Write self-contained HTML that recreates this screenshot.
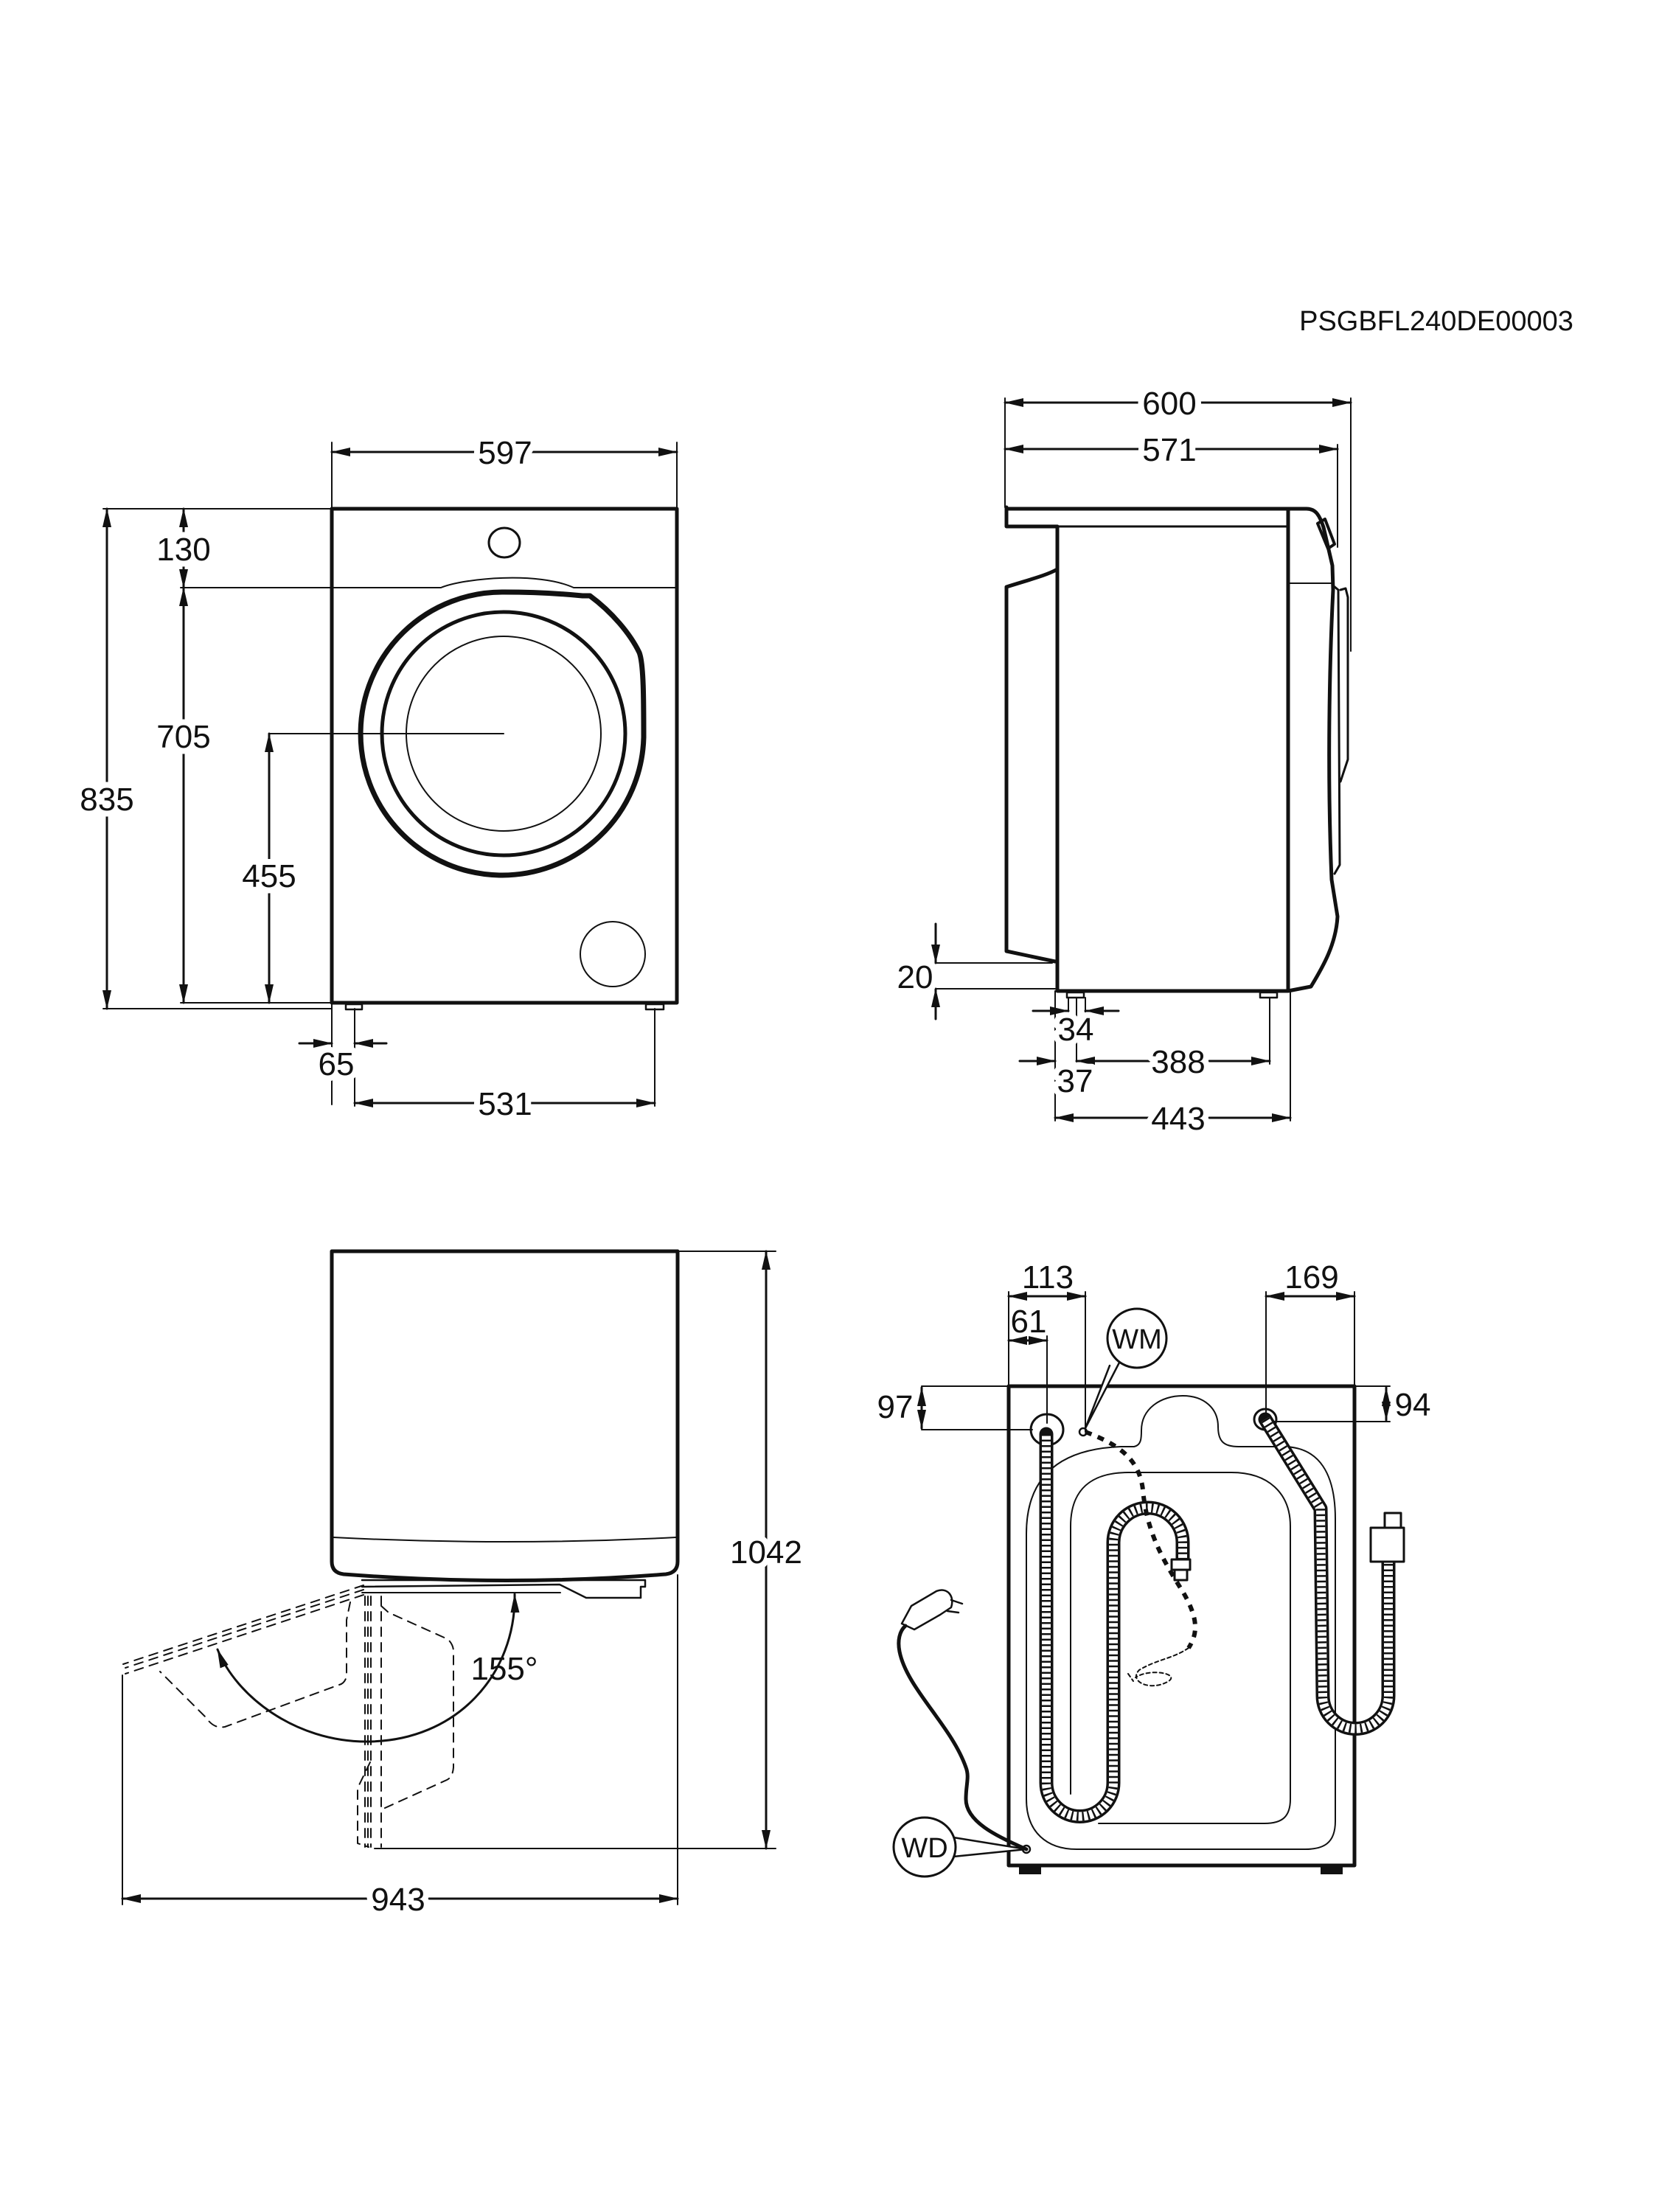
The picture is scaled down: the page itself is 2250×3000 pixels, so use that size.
<!DOCTYPE html>
<html><head><meta charset="utf-8"><style>
html,body{margin:0;padding:0;background:#fff}
svg{display:block}
text{font-family:"Liberation Sans",Arial,sans-serif;font-size:44px;fill:#111;text-anchor:middle;paint-order:stroke;stroke:#fff;stroke-width:16px;stroke-linejoin:round}
</style></head><body>
<svg width="2250" height="3000" viewBox="0 0 2250 3000" xmlns="http://www.w3.org/2000/svg">
<defs>
<marker id="a" markerUnits="userSpaceOnUse" markerWidth="26" markerHeight="12" refX="25" refY="6" orient="auto-start-reverse"><path d="M0,0 L26,6 L0,12 z" fill="#111"/></marker>
</defs>
<g fill="none" stroke="#111" stroke-linejoin="round" stroke-linecap="round">

<!-- ===== FRONT VIEW ===== -->
<g stroke-width="2">
<line x1="450" y1="600" x2="450" y2="690"/><line x1="918" y1="600" x2="918" y2="690"/>
<line x1="140" y1="690" x2="450" y2="690"/>
<line x1="140" y1="1368" x2="450" y2="1368"/>
<line x1="245" y1="1360" x2="450" y2="1360"/>
<line x1="245" y1="797" x2="450" y2="797"/>
<line x1="365" y1="995" x2="683" y2="995"/>
<line x1="450" y1="1360" x2="450" y2="1498"/>
<line x1="481" y1="1368" x2="481" y2="1500"/>
<line x1="888" y1="1368" x2="888" y2="1500"/>
</g>
<g stroke-width="3">
<line x1="450" y1="613" x2="918" y2="613" marker-start="url(#a)" marker-end="url(#a)"/>
<line x1="145" y1="690" x2="145" y2="1368" marker-start="url(#a)" marker-end="url(#a)"/>
<line x1="249" y1="690" x2="249" y2="797" marker-start="url(#a)" marker-end="url(#a)"/>
<line x1="249" y1="797" x2="249" y2="1360" marker-start="url(#a)" marker-end="url(#a)"/>
<line x1="365" y1="995" x2="365" y2="1360" marker-start="url(#a)" marker-end="url(#a)"/>
<line x1="406" y1="1415" x2="450" y2="1415" marker-end="url(#a)"/>
<line x1="524" y1="1415" x2="481" y2="1415" marker-end="url(#a)"/>
<line x1="481" y1="1496" x2="888" y2="1496" marker-start="url(#a)" marker-end="url(#a)"/>
</g>
<rect x="450" y="690" width="468" height="670" stroke-width="5"/>
<ellipse cx="684" cy="736" rx="21" ry="20" stroke-width="3"/>
<path d="M452,797 L598,797 C630,784 730,775 778,797 L916,797" stroke-width="2"/>
<path d="M873,1000 A192,192 0 1 1 683,803 C720,803 760,805 790,808 L800,808 C830,830 855,860 867,885 C873,900 873,950 873,1000 Z" stroke-width="7"/>
<circle cx="683" cy="995" r="165" stroke-width="5"/>
<circle cx="683" cy="995" r="132" stroke-width="2"/>
<circle cx="831" cy="1294" r="44" stroke-width="2"/>
<rect x="469" y="1362" width="22" height="7" stroke-width="2.5"/>
<rect x="876" y="1362" width="24" height="7" stroke-width="2.5"/>

<!-- ===== SIDE VIEW ===== -->
<g stroke-width="2">
<line x1="1363" y1="540" x2="1363" y2="688"/>
<line x1="1832" y1="540" x2="1832" y2="883"/>
<line x1="1814" y1="603" x2="1814" y2="742"/>
<line x1="1269" y1="1306" x2="1427" y2="1306"/>
<line x1="1269" y1="1341" x2="1431" y2="1341"/>
<line x1="1431" y1="1344" x2="1431" y2="1520"/>
<line x1="1750" y1="1344" x2="1750" y2="1520"/>
<line x1="1449" y1="1353" x2="1449" y2="1395"/>
<line x1="1472" y1="1353" x2="1472" y2="1395"/>
<line x1="1460" y1="1353" x2="1460" y2="1440"/>
<line x1="1722" y1="1353" x2="1722" y2="1443"/>
<line x1="1747" y1="791" x2="1807" y2="791"/>
</g>
<g stroke-width="3">
<line x1="1363" y1="546" x2="1832" y2="546" marker-start="url(#a)" marker-end="url(#a)"/>
<line x1="1363" y1="609" x2="1814" y2="609" marker-start="url(#a)" marker-end="url(#a)"/>
<line x1="1269" y1="1253" x2="1269" y2="1306" marker-end="url(#a)"/>
<line x1="1269" y1="1382" x2="1269" y2="1341" marker-end="url(#a)"/>
<line x1="1401" y1="1371" x2="1449" y2="1371" marker-end="url(#a)"/>
<line x1="1517" y1="1371" x2="1472" y2="1371" marker-end="url(#a)"/>
<line x1="1383" y1="1439" x2="1431" y2="1439" marker-end="url(#a)"/>
<line x1="1460" y1="1439" x2="1722" y2="1439" marker-start="url(#a)" marker-end="url(#a)"/>
<line x1="1431" y1="1516" x2="1750" y2="1516" marker-start="url(#a)" marker-end="url(#a)"/>
</g>
<g stroke-width="5">
<path d="M1365,688 L1365,714 L1434,714 L1434,1344 L1747,1344 L1747,690"/>
<path d="M1365,690 L1772,690 C1785,690 1790,700 1795,715 L1807,767 L1808,800 C1803,900 1800,1050 1806,1193 L1814,1243 C1812,1280 1795,1310 1778,1338 L1747,1344"/>
<path d="M1434,772 C1420,780 1400,785 1365,796 L1365,1290 L1431,1304"/>
<line x1="1434" y1="714" x2="1747" y2="714" stroke-width="3"/>
</g>
<path d="M1787,710 L1797,704 L1810,738 L1801,744 Z" stroke-width="4"/>
<path d="M1809,795 L1815,800 L1817,1173 L1810,1185 M1818,800 L1825,798 L1828,810 L1828,1030 L1818,1060" stroke-width="3"/>
<rect x="1447" y="1346" width="23" height="7" stroke-width="2.5"/>
<rect x="1709" y="1346" width="23" height="7" stroke-width="2.5"/>

<!-- ===== DOOR OPEN VIEW ===== -->
<g stroke-width="2">
<line x1="919" y1="1697" x2="1052" y2="1697"/>
<line x1="508" y1="2507" x2="1052" y2="2507"/>
<line x1="166" y1="2272" x2="166" y2="2583"/>
<line x1="919" y1="2136" x2="919" y2="2583"/>
</g>
<g stroke-width="3">
<line x1="1039" y1="1697" x2="1039" y2="2507" marker-start="url(#a)" marker-end="url(#a)"/>
<line x1="166" y1="2575" x2="919" y2="2575" marker-start="url(#a)" marker-end="url(#a)"/>
<path d="M698,2162 C700,2270 620,2362 497,2362 C400,2362 320,2300 295,2237" marker-start="url(#a)" marker-end="url(#a)"/>
</g>
<path d="M450,1697 L919,1697 L919,2118 Q919,2133 903,2135 Q690,2152 466,2135 Q450,2133 450,2118 Z" stroke-width="5"/>
<path d="M452,2085 Q685,2097 917,2085" stroke-width="2"/>
<path d="M491,2143 L875,2143 L875,2152 L869,2152 L869,2167 L795,2167 L759,2149 L491,2152" stroke-width="2.5"/>
<line x1="491" y1="2160" x2="760" y2="2160" stroke-width="2"/>
<g stroke-width="2" stroke-dasharray="12 9">
<path d="M493,2150 L167,2257"/>
<path d="M493,2156 L170,2262"/>
<path d="M493,2163 L170,2270"/>
<path d="M475,2173 L470,2197 L470,2273 Q468,2283 460,2285 L305,2342 Q290,2345 280,2330 L217,2267"/>
<path d="M517,2165 L517,2505"/>
<path d="M517,2178 L527,2187 L607,2223 Q615,2230 615,2240 L615,2397 Q614,2410 606,2414 L520,2453"/>
<path d="M495,2165 L495,2505 M499,2165 L499,2505 M503,2165 L503,2505"/>
<path d="M502,2390 L485,2425 L485,2500 L500,2505"/>
</g>

<!-- ===== BACK VIEW ===== -->
<g stroke-width="2">
<line x1="1368" y1="1752" x2="1368" y2="1880"/>
<line x1="1472" y1="1752" x2="1472" y2="1942"/>
<line x1="1420" y1="1812" x2="1420" y2="1930"/>
<line x1="1717" y1="1752" x2="1717" y2="1919"/>
<line x1="1837" y1="1752" x2="1837" y2="1880"/>
<line x1="1250" y1="1880" x2="1368" y2="1880"/>
<line x1="1250" y1="1939" x2="1400" y2="1939"/>
<line x1="1837" y1="1880" x2="1885" y2="1880"/>
<line x1="1717" y1="1928" x2="1885" y2="1928"/>
<path d="M1392,2440 L1392,2080 C1392,2000 1440,1965 1520,1962 L1538,1962 C1548,1960 1548,1950 1548,1940 C1548,1910 1575,1893 1604,1893 C1633,1893 1652,1910 1652,1935 C1652,1955 1660,1962 1680,1962 L1740,1962 C1790,1962 1811,2000 1811,2060 L1811,2470 C1811,2500 1795,2508 1770,2508 L1460,2508 C1420,2508 1392,2485 1392,2440 Z"/>
<path d="M1452,2433 L1452,2070 C1452,2020 1480,1997 1530,1997 L1670,1997 C1720,1997 1750,2025 1750,2070 L1750,2440 C1750,2463 1740,2473 1715,2473 L1490,2473"/>
</g>
<g stroke-width="3">
<line x1="1368" y1="1758" x2="1472" y2="1758" marker-start="url(#a)" marker-end="url(#a)"/>
<line x1="1368" y1="1818" x2="1420" y2="1818" marker-start="url(#a)" marker-end="url(#a)"/>
<line x1="1717" y1="1758" x2="1837" y2="1758" marker-start="url(#a)" marker-end="url(#a)"/>
<line x1="1250" y1="1882" x2="1250" y2="1937" marker-start="url(#a)" marker-end="url(#a)"/>
<line x1="1880" y1="1882" x2="1880" y2="1926" marker-start="url(#a)" marker-end="url(#a)"/>
</g>
<rect x="1368" y="1880" width="469" height="650" stroke-width="5"/>
<rect x="1382" y="2530" width="30" height="12" fill="#111" stroke="none"/>
<rect x="1791" y="2530" width="30" height="12" fill="#111" stroke="none"/>
<ellipse cx="1420" cy="1939" rx="22" ry="21" stroke-width="3"/>
<ellipse cx="1716" cy="1925" rx="15" ry="14" stroke-width="3"/>
<g>
<path d="M1419,1945 L1419,2418 A45.5,45.5 0 0 0 1510,2418 L1510,2092 A47,47 0 0 1 1604,2092 L1604,2117" stroke-width="19"/>
<path d="M1419,1945 L1419,2418 A45.5,45.5 0 0 0 1510,2418 L1510,2092 A47,47 0 0 1 1604,2092 L1604,2117" stroke="#fff" stroke-width="12" stroke-linecap="butt"/>
<path d="M1419,1945 L1419,2418 A45.5,45.5 0 0 0 1510,2418 L1510,2092 A47,47 0 0 1 1604,2092 L1604,2117" stroke-width="12" stroke-dasharray="2.5 5" stroke-linecap="butt"/>
<path d="M1716,1925 L1791,2046 L1794,2300 A44.5,44.5 0 0 0 1883,2300 L1883,2118" stroke-width="19"/>
<path d="M1716,1925 L1791,2046 L1794,2300 A44.5,44.5 0 0 0 1883,2300 L1883,2118" stroke="#fff" stroke-width="12" stroke-linecap="butt"/>
<path d="M1716,1925 L1791,2046 L1794,2300 A44.5,44.5 0 0 0 1883,2300 L1883,2118" stroke-width="12" stroke-dasharray="2.5 5" stroke-linecap="butt"/>
</g>
<rect x="1589" y="2115" width="25" height="14" fill="#fff" stroke-width="3"/>
<rect x="1593" y="2129" width="17" height="14" fill="#fff" stroke-width="3"/>
<rect x="1859" y="2072" width="45" height="46" fill="#fff" stroke-width="3"/>
<rect x="1878" y="2052" width="22" height="20" fill="#fff" stroke-width="3"/>
<path d="M1472,1942 C1520,1960 1545,1980 1550,2020 C1555,2080 1580,2120 1605,2160 C1625,2195 1625,2215 1612,2235" stroke-width="6" stroke-dasharray="9 9" stroke-linecap="butt"/>
<path d="M1612,2235 C1590,2250 1570,2250 1545,2265 C1530,2280 1560,2295 1585,2280 C1600,2270 1560,2262 1540,2275 M1530,2270 L1537,2280" stroke-width="2" stroke-dasharray="5 4"/>
<circle cx="1469" cy="1942" r="5" stroke-width="2.5"/>
<circle cx="1392" cy="2508" r="5" stroke-width="2.5"/>
<path d="M1392,2508 C1350,2490 1310,2470 1310,2440 C1310,2420 1315,2410 1310,2397 C1290,2340 1230,2290 1220,2240 C1217,2225 1220,2212 1228,2205" stroke-width="5"/>
<path d="M1223,2202 L1236,2178 L1270,2158 C1285,2152 1295,2165 1290,2180 L1275,2190 L1240,2210 Z M1290,2170 L1305,2175 M1285,2185 L1300,2187" stroke-width="2.5"/>
<path d="M1518,1848 L1472,1937 L1505,1852" stroke-width="2.5" fill="#fff"/>
<circle cx="1542" cy="1815" r="40" stroke-width="3" fill="#fff"/>
<path d="M1293,2492 L1392,2508 L1293,2518" stroke-width="2.5" fill="#fff"/>
<ellipse cx="1254" cy="2505" rx="42" ry="40" stroke-width="3" fill="#fff"/>
</g>

<text x="1948" y="448" style="font-size:38px">PSGBFL240DE00003</text>
<text x="685" y="629">597</text>
<text x="249" y="760">130</text>
<text x="249" y="1014">705</text>
<text x="145" y="1099">835</text>
<text x="365" y="1203">455</text>
<text x="456" y="1458">65</text>
<text x="685" y="1512">531</text>
<text x="1586" y="562">600</text>
<text x="1586" y="625">571</text>
<text x="1241" y="1340">20</text>
<text x="1459" y="1411">34</text>
<text x="1598" y="1455">388</text>
<text x="1458" y="1481">37</text>
<text x="1598" y="1532">443</text>
<text x="1039" y="2120">1042</text>
<text x="684" y="2278" style="stroke:none">155°</text>
<text x="540" y="2591">943</text>
<text x="1421" y="1747" style="stroke:none">113</text>
<text x="1395" y="1807" style="stroke:none">61</text>
<text x="1779" y="1747" style="stroke:none">169</text>
<text x="1214" y="1923" style="stroke:none">97</text>
<text x="1916" y="1920" style="stroke:none">94</text>
<text x="1542" y="1829" style="stroke:none;font-size:38px">WM</text>
<text x="1254" y="2519" style="stroke:none;font-size:38px">WD</text>
</svg>
</body></html>
